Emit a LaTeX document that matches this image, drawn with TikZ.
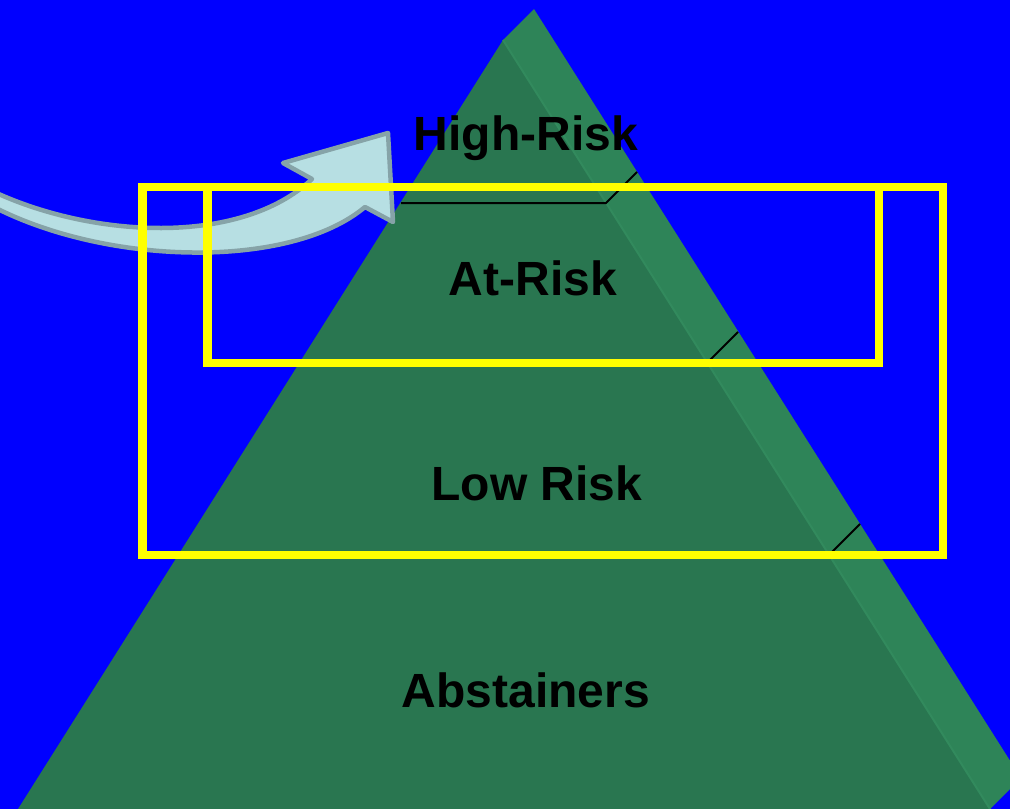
\documentclass[tikz,border=0pt]{standalone}
\usepackage{fontspec}
\setmainfont{Liberation Sans}
\begin{document}
\begin{tikzpicture}[x=1pt,y=-1pt,
  label/.style={font=\fontsize{48}{52}\selectfont\bfseries, text=black, inner sep=0pt, anchor=base},
  sep/.style={draw=black, line width=2pt},
  ybox/.style={draw=yellowbox, line width=8.5pt},
]
\definecolor{bluebg}{RGB}{0,0,255}
\definecolor{frontg}{RGB}{41,118,80}
\definecolor{sideg}{RGB}{46,132,88}
\definecolor{edgeg}{RGB}{50,138,93}
\definecolor{arrowfill}{RGB}{183,223,227}
\definecolor{arrowline}{RGB}{134,163,168}
\definecolor{yellowbox}{RGB}{255,255,0}
\useasboundingbox (0,0) rectangle (1010,809);
\clip (0,0) rectangle (1010,809);
\fill[bluebg] (0,0) rectangle (1010,809);
% pyramid
\coordinate (P) at (534,9);
\coordinate (A) at (503,40);
\coordinate (B) at (18,809);
\coordinate (C) at (990,809);
\coordinate (D) at (1021,778);
\fill[sideg] (P) -- (A) -- (C) -- (D) -- cycle;
\fill[frontg] (A) -- (B) -- (C) -- cycle;
\draw[edgeg, line width=2pt] (A) -- (C);
% tier separators
\coordinate (s1l) at (401,203);
\coordinate (s1r) at (606,203);
\coordinate (s1b) at (637,172);
\coordinate (s2l) at (300,363);
\coordinate (s2r) at (707,363);
\coordinate (s2b) at (738,332);
\coordinate (s3l) at (180,555);
\coordinate (s3r) at (829,555);
\coordinate (s3b) at (860,524);
\draw[sep] (s1l) -- (s1r) -- (s1b);
\draw[sep] (s2l) -- (s2r) -- (s2b);
\draw[sep] (s3l) -- (s3r) -- (s3b);
% labels
\node[label] (high) at (526,150) {High-Risk};
\node[label] (at) at (533,295) {At-Risk};
\node[label] (low) at (537,500) {Low Risk};
\node[label] (abs) at (526,707) {Abstainers};
% curved block arrow
\draw[fill=arrowfill, draw=arrowline, line width=4.5pt, line join=round]
  (-10,190) .. controls (90,238) and (240,247) .. (312,179)
  -- (283,163) -- (388,133) -- (393,222) -- (365,207)
  .. controls (290,270) and (105,266) .. (-10,205) -- cycle;
% yellow boxes
\draw[ybox] (142.5,187) rectangle (943,555);
\draw[ybox] (207.5,187) rectangle (879,363);
\end{tikzpicture}
\end{document}
